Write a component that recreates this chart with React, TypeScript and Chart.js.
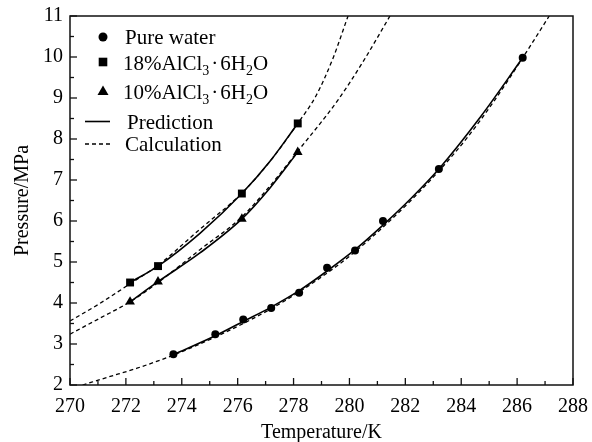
import React, { useEffect, useRef } from "react";
import { Chart, registerables } from "chart.js";
Chart.register(...registerables);

const FONT = "'Liberation Serif', 'Times New Roman', serif";

// Tick labels
const xTickValues = [270, 272, 274, 276, 278, 280, 282, 284, 286, 288];
const yTickValues = [2, 3, 4, 5, 6, 7, 8, 9, 10, 11];

// Experimental points
const pureT = [273.7, 275.2, 276.2, 277.2, 278.2, 279.2, 280.2, 281.2, 283.2, 286.2];
const pureP = [2.75, 3.24, 3.6, 3.88, 4.25, 4.86, 5.28, 6.0, 7.27, 9.98];
const s18T = [272.15, 273.15, 276.15, 278.15];
const s18P = [4.5, 4.9, 6.67, 8.38];
const s10T = [272.15, 273.15, 276.15, 278.15];
const s10P = [4.03, 4.52, 6.05, 7.68];

// Prediction curves (solid)
const purePredT = [273.7, 275.2, 276.2, 277.2, 278.2, 279.2, 280.2, 281.2, 282.2, 283.2, 284.7, 286.2];
const purePredP = [2.74, 3.2, 3.55, 3.9, 4.3, 4.78, 5.3, 5.9, 6.55, 7.27, 8.55, 9.98];
const s18PredT = [272.15, 273.15, 274.65, 276.15, 277.15, 278.15];
const s18PredP = [4.5, 4.9, 5.7, 6.67, 7.45, 8.38];
const s10PredT = [272.15, 273.15, 274.65, 276.15, 277.15, 278.15];
const s10PredP = [4.03, 4.52, 5.22, 6.05, 6.8, 7.68];

// Calculation curves (dashed)
const pureCalcT = [270.45, 271.4, 272.4, 273.7, 275.2, 276.2, 277.2, 278.2, 279.2, 280.2, 281.2, 282.2, 283.2, 284.2, 285.2, 286.2, 287.15];
const pureCalcP = [2.0, 2.2, 2.41, 2.73, 3.17, 3.5, 3.86, 4.27, 4.73, 5.25, 5.85, 6.5, 7.22, 8.02, 8.95, 9.98, 11.0];
const s18CalcT = [270, 271.07, 272.15, 273.15, 274.65, 276.15, 277.15, 278.15, 278.8, 279.4, 279.95];
const s18CalcP = [3.56, 3.99, 4.47, 4.92, 5.8, 6.68, 7.45, 8.38, 9.05, 9.95, 11.0];
const s10CalcT = [270, 271.07, 272.15, 273.15, 274.65, 276.15, 277.15, 278.15, 279.6, 280.5, 281.45];
const s10CalcP = [3.24, 3.63, 4.03, 4.5, 5.3, 6.1, 6.85, 7.7, 8.96, 9.9, 11.0];

const pts = (t: number[], p: number[]) => t.map((x, i) => ({ x, y: p[i] }));

const frameAndLegend = {
  id: "frameAndLegend",
  afterDraw(chart: any) {
    const { ctx, chartArea, scales } = chart;
    const { left, right, top, bottom } = chartArea;
    ctx.save();
    ctx.strokeStyle = "#111";
    ctx.lineWidth = 1.5;
    ctx.setLineDash([]);
    ctx.strokeRect(left, top, right - left, bottom - top);
    // x ticks (inward)
    ctx.lineWidth = 1.3;
    for (let v = 270; v <= 288; v += 1) {
      const px = scales.x.getPixelForValue(v);
      const len = v % 2 === 0 ? 7 : 4;
      ctx.beginPath();
      ctx.moveTo(px, bottom);
      ctx.lineTo(px, bottom - len);
      ctx.stroke();
    }
    for (let v = 2; v <= 11.001; v += 0.5) {
      const py = scales.y.getPixelForValue(v);
      const len = Math.abs(v - Math.round(v)) < 0.01 ? 7 : 4;
      ctx.beginPath();
      ctx.moveTo(left, py);
      ctx.lineTo(left + len, py);
      ctx.stroke();
    }

    // Legend
    ctx.fillStyle = "#000";
    ctx.strokeStyle = "#000";
    const mx = 103;
    ctx.beginPath();
    ctx.arc(mx, 37, 4.5, 0, Math.PI * 2);
    ctx.fill();
    ctx.fillRect(mx - 4.3, 62 - 4.3, 8.6, 8.6);
    ctx.beginPath();
    ctx.moveTo(mx, 91 - 5.5);
    ctx.lineTo(mx + 5.5, 91 + 4);
    ctx.lineTo(mx - 5.5, 91 + 4);
    ctx.closePath();
    ctx.fill();
    ctx.lineWidth = 1.6;
    ctx.beginPath();
    ctx.moveTo(85, 121.5);
    ctx.lineTo(110, 121.5);
    ctx.stroke();
    ctx.lineWidth = 1.4;
    ctx.setLineDash([4, 3]);
    ctx.beginPath();
    ctx.moveTo(85, 144);
    ctx.lineTo(110, 144);
    ctx.stroke();
    ctx.setLineDash([]);

    const big = `21px ${FONT}`;
    const small = `14px ${FONT}`;
    ctx.textAlign = "left";
    ctx.textBaseline = "alphabetic";
    ctx.font = big;
    ctx.fillText("Pure water", 125, 44);
    const drawFormula = (prefix: string, x: number, y: number) => {
      ctx.font = big;
      ctx.fillText(prefix + "AlCl", x, y);
      x += ctx.measureText(prefix + "AlCl").width;
      ctx.font = small;
      ctx.fillText("3", x, y + 5);
      x += ctx.measureText("3").width + 2;
      ctx.font = big;
      ctx.fillText("·", x, y);
      x += ctx.measureText("·").width + 2;
      ctx.fillText("6H", x, y);
      x += ctx.measureText("6H").width;
      ctx.font = small;
      ctx.fillText("2", x, y + 5);
      x += ctx.measureText("2").width;
      ctx.font = big;
      ctx.fillText("O", x, y);
    };
    drawFormula("18%", 123, 70);
    drawFormula("10%", 123, 99);
    ctx.font = big;
    ctx.fillText("Prediction", 127, 129);
    ctx.fillText("Calculation", 125, 151);
    ctx.restore();
  },
};

export default function App() {
  const ref = useRef<HTMLCanvasElement | null>(null);
  useEffect(() => {
    if (!ref.current) return;
    const solid = (t: number[], p: number[]) => ({
      data: pts(t, p),
      showLine: true,
      borderColor: "#000",
      borderWidth: 1.6,
      pointRadius: 0,
      cubicInterpolationMode: "monotone" as const,
    });
    const dashed = (t: number[], p: number[]) => ({
      data: pts(t, p),
      showLine: true,
      borderColor: "#000",
      borderWidth: 1.3,
      borderDash: [4, 3],
      pointRadius: 0,
      cubicInterpolationMode: "monotone" as const,
    });
    const marks = (t: number[], p: number[], style: string, r: number) => ({
      data: pts(t, p),
      showLine: false,
      pointStyle: style,
      pointRadius: r,
      backgroundColor: "#000",
      borderColor: "#000",
      borderWidth: 0,
    });
    const chart = new Chart(ref.current, {
      type: "scatter",
      data: {
        datasets: [
          marks(pureT, pureP, "circle", 4),
          marks(s18T, s18P, "rect", 5.6),
          marks(s10T, s10P, "triangle", 5.6),
          solid(purePredT, purePredP),
          solid(s18PredT, s18PredP),
          solid(s10PredT, s10PredP),
          dashed(pureCalcT, pureCalcP),
          dashed(s18CalcT, s18CalcP),
          dashed(s10CalcT, s10CalcP),
        ] as any,
      },
      options: {
        animation: false,
        responsive: true,
        maintainAspectRatio: false,
        layout: { padding: { top: 16, right: 19, left: 0, bottom: 0 } },
        plugins: { legend: { display: false }, tooltip: { enabled: false } },
        scales: {
          x: {
            type: "linear",
            min: 270,
            max: 288,
            afterFit: (s: any) => {
              s.height = 57;
              s.paddingLeft = 0;
              s.paddingRight = 0;
            },
            afterBuildTicks: (s: any) => {
              s.ticks = xTickValues.map((v) => ({ value: v }));
            },
            grid: { display: false, drawTicks: false },
            border: { display: false },
            ticks: { color: "#000", font: { family: FONT, size: 20 }, padding: 10, maxRotation: 0, autoSkip: false },
            title: {
              display: true,
              text: "Temperature/K",
              color: "#000",
              font: { family: FONT, size: 20 },
              padding: { top: 0, bottom: -3 },
            },
          },
          y: {
            type: "linear",
            min: 2,
            max: 11,
            afterFit: (s: any) => {
              s.width = 70;
              s.paddingTop = 0;
              s.paddingBottom = 0;
            },
            afterBuildTicks: (s: any) => {
              s.ticks = yTickValues.map((v) => ({ value: v }));
            },
            grid: { display: false, drawTicks: false },
            border: { display: false },
            ticks: { color: "#000", font: { family: FONT, size: 20 }, padding: 7, autoSkip: false },
            title: {
              display: true,
              text: "Pressure/MPa",
              color: "#000",
              font: { family: FONT, size: 20 },
              padding: { top: 11, bottom: 0 },
            },
          },
        },
      },
      plugins: [frameAndLegend],
    });
    return () => chart.destroy();
  }, []);
  return (
    <div style={{ position: "fixed", left: 0, top: 0, width: 592, height: 442, background: "#fff" }}>
      <canvas ref={ref} />
    </div>
  );
}
